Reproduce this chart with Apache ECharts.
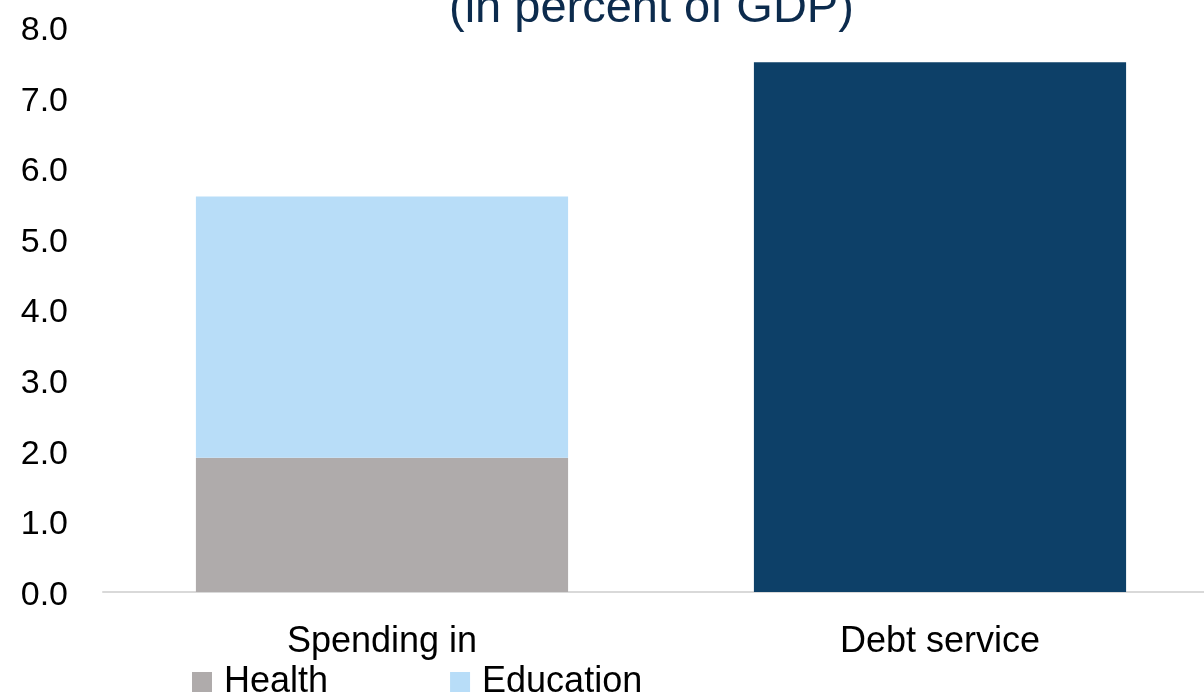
<!DOCTYPE html>
<html>
<head>
<meta charset="utf-8">
<script src="https://cdn.jsdelivr.net/npm/echarts@6/dist/echarts.min.js"></script>
<style>html,body{margin:0;padding:0;background:#fff;}#c{width:1204px;height:693px;}</style>
</head>
<body>
<div id="c"></div>
<script>
var categories = ['Spending in', 'Debt service'];
var health = [1.9, '-'];
var education = [3.7, '-'];
var debtService = ['-', 7.5];
var yTicks = { min: 0, max: 8, interval: 1 };
var titleText = '(in percent of GDP)';

var FONT = '"Liberation Sans", Arial, sans-serif';
var chart = echarts.init(document.getElementById('c'), null, { renderer: 'canvas' });
chart.setOption({
  backgroundColor: '#ffffff',
  animation: false,
  title: {
    text: titleText,
    left: 449,
    top: -17,
    padding: 0,
    textStyle: { color: '#0c2b4d', fontFamily: FONT, fontSize: 47, fontWeight: 'normal', lineHeight: 52 }
  },
  legend: {
    data: ['Health', 'Education'],
    left: 192,
    top: 664,
    padding: 0,
    itemWidth: 20,
    itemHeight: 20,
    itemGap: 122,
    icon: 'rect',
    textStyle: { color: '#000', fontFamily: FONT, fontSize: 36, lineHeight: 32, padding: [0, 0, 0, 7] }
  },
  grid: { left: 103, width: 1116, top: 27, bottom: 101, containLabel: false, outerBoundsMode: 'none' },
  xAxis: {
    type: 'category',
    data: categories,
    axisLine: { show: true, lineStyle: { color: '#d9d9d9', width: 2 } },
    axisTick: { show: false },
    axisLabel: { color: '#000', fontFamily: FONT, fontSize: 36, margin: 32 }
  },
  yAxis: {
    type: 'value',
    min: yTicks.min,
    max: yTicks.max,
    interval: yTicks.interval,
    axisLine: { show: false },
    axisTick: { show: false },
    splitLine: { show: false },
    axisLabel: {
      color: '#000', fontFamily: FONT, fontSize: 34, margin: 35,
      formatter: function (v) { return '{a|' + v.toFixed(1) + '}'; },
      rich: { a: { fontFamily: FONT, fontSize: 34, color: '#000', padding: [7, 0, 0, 0] } }
    }
  },
  series: [
    { name: 'Health', type: 'bar', stack: 's', data: health, barWidth: '66.7%', itemStyle: { color: '#afabab' } },
    { name: 'Education', type: 'bar', stack: 's', data: education, itemStyle: { color: '#b8ddf8' } },
    { name: 'Debt service', type: 'bar', stack: 's', data: debtService, itemStyle: { color: '#0d4068' } }
  ]
});
</script>
</body>
</html>
